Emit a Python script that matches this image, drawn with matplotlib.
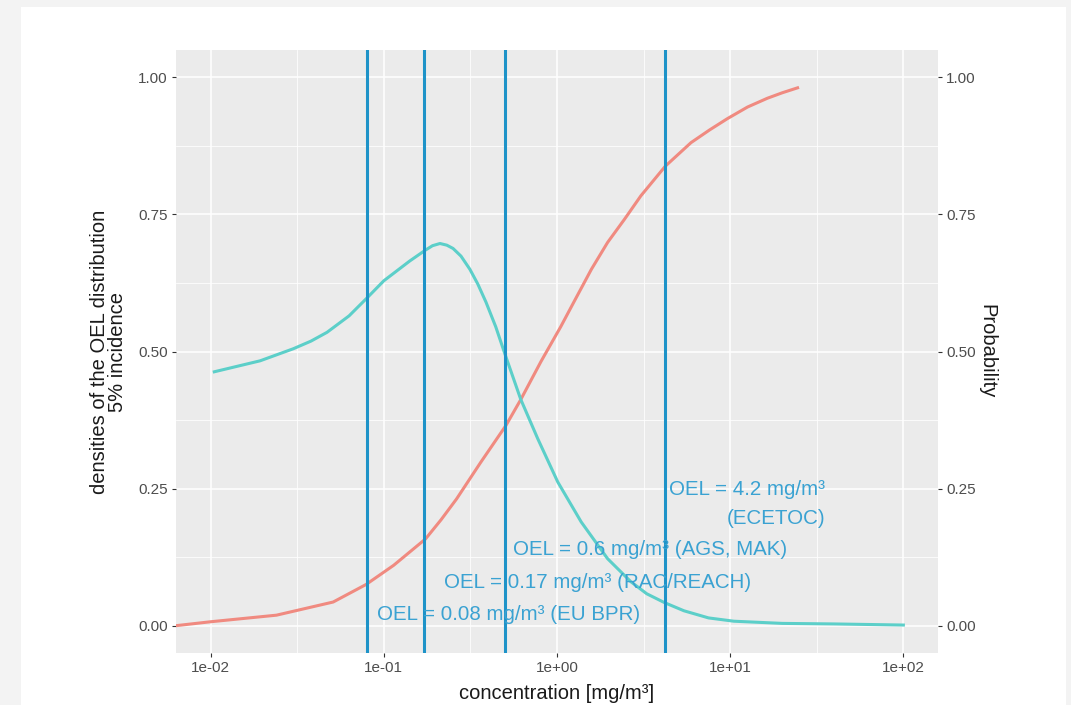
import numpy as np
import matplotlib.pyplot as plt
from matplotlib.patches import Rectangle
from matplotlib.ticker import FixedLocator, NullFormatter

plt.rcParams['font.family'] = ['Liberation Sans', 'DejaVu Sans']

# density of the OEL distribution (teal)
dens_conc = [0.0105, 0.0193, 0.030, 0.038, 0.047, 0.063, 0.079, 0.100, 0.141,
             0.174, 0.191, 0.211, 0.231, 0.251, 0.279, 0.314, 0.349, 0.389,
             0.443, 0.501, 0.617, 0.774, 1.01, 1.38, 1.96, 2.67, 3.3, 4.17,
             5.41, 7.5, 10.5, 20.0, 40.0, 100.0]
dens_vals = [0.463, 0.483, 0.505, 0.519, 0.535, 0.565, 0.596, 0.629, 0.665,
             0.685, 0.693, 0.697, 0.694, 0.688, 0.674, 0.650, 0.623, 0.590,
             0.545, 0.495, 0.413, 0.341, 0.262, 0.189, 0.122, 0.080, 0.058,
             0.042, 0.027, 0.014, 0.008, 0.004, 0.003, 0.001]

# probability of 5% incidence (salmon)
prob_conc = [0.00637, 0.0100, 0.024, 0.051, 0.079, 0.114, 0.174, 0.214, 0.263,
             0.363, 0.507, 0.617, 0.809, 1.05, 1.26, 1.58, 1.96, 2.45, 3.05,
             4.22, 5.94, 7.59, 9.66, 12.6, 16.4, 20.0, 24.5]
prob_vals = [0.0, 0.007, 0.019, 0.043, 0.075, 0.110, 0.158, 0.193, 0.231,
             0.298, 0.365, 0.412, 0.482, 0.545, 0.592, 0.650, 0.699, 0.741,
             0.784, 0.838, 0.881, 0.904, 0.925, 0.946, 0.962, 0.972, 0.981]

# OEL lines and labels
oel_values = [0.08, 0.17, 0.5, 4.2]
oel_labels = ['OEL = 0.08 mg/m³ (EU BPR)', 'OEL = 0.17 mg/m³ (RAC/REACH)',
              'OEL = 0.6 mg/m³ (AGS, MAK)', 'OEL = 4.2 mg/m³\n(ECETOC)']
label_x = [0.091, 0.222, 0.557, 4.43]
label_y = [0.02, 0.078, 0.138, 0.222]

yticks = [0.0, 0.25, 0.5, 0.75, 1.0]
xticks = [1e-2, 1e-1, 1e0, 1e1, 1e2]
xtick_labels = ['1e-02', '1e-01', '1e+00', '1e+01', '1e+02']

fig = plt.figure(figsize=(10.71, 7.05), dpi=100, facecolor='#f3f3f3')
bg = fig.add_axes([21 / 1071, 0, (1066 - 21) / 1071, 1 - 7 / 705], zorder=-10)
bg.axis('off')
bg.add_patch(Rectangle((0, 0), 1, 1, transform=bg.transAxes, facecolor='white',
                       edgecolor='none'))

ax = fig.add_axes([176 / 1071, 1 - 653 / 705, (938 - 176) / 1071, (653 - 50) / 705])
ax.set_facecolor('#EBEBEB')
ax.set_xscale('log')
ax.set_xlim(10 ** -2.2, 10 ** 2.2)
ax.set_ylim(-0.05, 1.05)

# grid
ax.xaxis.set_major_locator(FixedLocator(xticks))
ax.xaxis.set_minor_locator(FixedLocator([10 ** -2.5, 10 ** -1.5, 10 ** -0.5, 10 ** 0.5, 10 ** 1.5]))
ax.xaxis.set_minor_formatter(NullFormatter())
ax.set_xticklabels(xtick_labels)
ax.set_yticks(yticks)
ax.set_yticks([0.125, 0.375, 0.625, 0.875], minor=True)
ax.set_yticklabels(['%.2f' % v for v in yticks])
ax.grid(which='major', color='white', linewidth=1.1)
ax.grid(which='minor', color='white', linewidth=0.55)
ax.set_axisbelow(True)
for s in ax.spines.values():
    s.set_visible(False)
ax.tick_params(which='major', length=3, width=0.8, color='#333333',
               labelcolor='#4D4D4D', labelsize=11, pad=3)
ax.tick_params(which='minor', length=0)

ax.plot(prob_conc, prob_vals, color='#F08A80', linewidth=2.2, zorder=3,
        solid_joinstyle='round')
ax.plot(dens_conc, dens_vals, color='#5CCFC9', linewidth=2.2, zorder=3,
        solid_joinstyle='round')

for v in oel_values:
    ax.axvline(v, color='#1E93C8', linewidth=2.2, zorder=4)

for lx, ly, lab in zip(label_x, label_y, oel_labels):
    ax.text(lx, ly, lab, color='#3AA2D2', fontsize=14.8, ha='left', va='center',
            multialignment='right', linespacing=1.65, zorder=5)

ax.set_xlabel('concentration [mg/m³]', fontsize=14.5, color='#1a1a1a', labelpad=6)
ax.set_ylabel('densities of the OEL distribution\n5% incidence', fontsize=14.5,
              color='#1a1a1a', labelpad=8, linespacing=0.95)

ax2 = ax.twinx()
ax2.set_ylim(-0.05, 1.05)
ax2.set_yticks(yticks)
ax2.set_yticklabels(['%.2f' % v for v in yticks])
for s in ax2.spines.values():
    s.set_visible(False)
ax2.tick_params(length=3, width=0.8, color='#333333', labelcolor='#4D4D4D',
                labelsize=11, pad=3)
ax2.set_ylabel('Probability', fontsize=14.5, color='#1a1a1a', rotation=-90,
               labelpad=15)

fig.savefig('out.png', dpi=100, facecolor=fig.get_facecolor())
